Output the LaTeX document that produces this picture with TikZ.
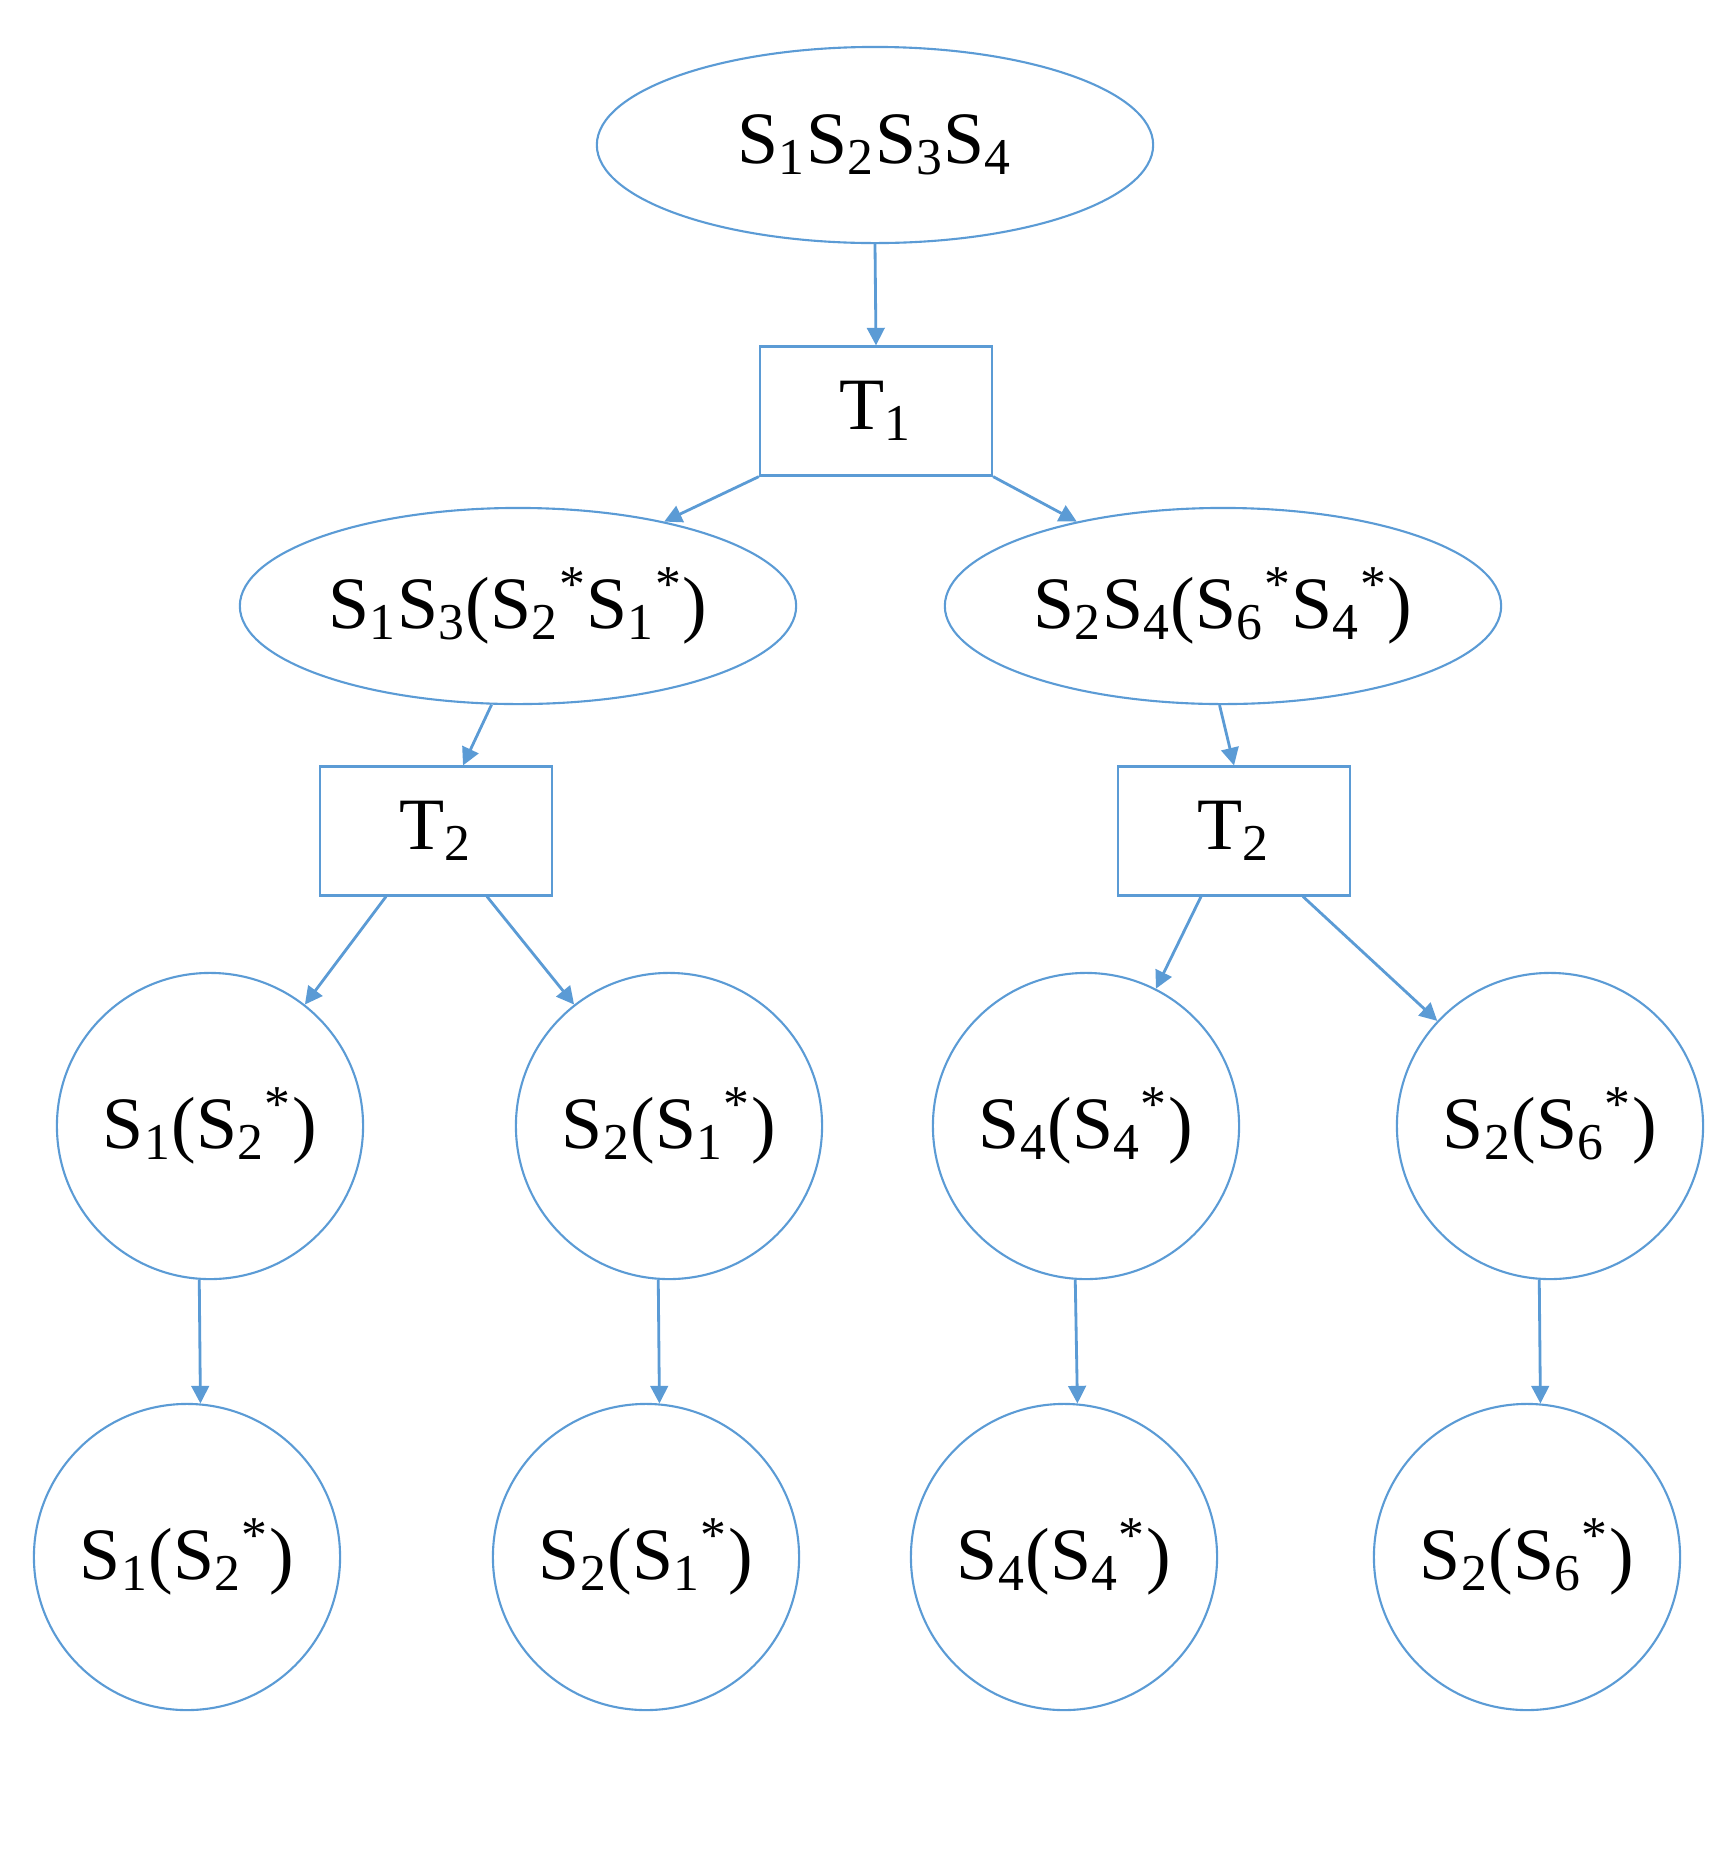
\documentclass[tikz,border=0pt]{standalone}
\usepackage{fontspec}
\setmainfont{Liberation Serif}
\usetikzlibrary{shapes.geometric,arrows.meta}
\definecolor{lb}{RGB}{91,155,213}
\newcommand{\ssb}[1]{\textsubscript{#1}}
\newcommand{\sst}{\textsuperscript{*}}
\begin{document}
\begin{tikzpicture}[x=0.01cm,y=0.01cm,
  every node/.style={font=\fontsize{21}{24}\selectfont, inner sep=0pt},
  ell/.style={draw=lb, line width=0.6pt, ellipse, minimum width=5.56cm, minimum height=1.96cm},
  box/.style={draw=lb, line width=0.6pt, rectangle, minimum width=2.32cm, minimum height=1.29cm},
  cir/.style={draw=lb, line width=0.6pt, circle, minimum size=3.06cm},
  arr/.style={draw=lb, line width=0.8pt, -{Triangle[length=5pt,width=5pt]}}]
\useasboundingbox (0,-1869) rectangle (1735,0);
\node[ell] (top) at (875,-145) {S\ssb1S\ssb2S\ssb3S\ssb4};
\node[box] (t1) at (876,-411) {T\ssb1};
\node[ell] (L) at (518,-606) {S\ssb1S\ssb3(S\ssb2\sst S\ssb1\sst)};
\node[ell] (R) at (1223,-606) {S\ssb2S\ssb4(S\ssb6\sst S\ssb4\sst)};
\node[box] (t2l) at (436,-831) {T\ssb2};
\node[box] (t2r) at (1234,-831) {T\ssb2};
\node[cir] (a1) at (210,-1126) {S\ssb1(S\ssb2\sst)};
\node[cir] (b1) at (669,-1126) {S\ssb2(S\ssb1\sst)};
\node[cir] (c1) at (1086,-1126) {S\ssb4(S\ssb4\sst)};
\node[cir] (d1) at (1550,-1126) {S\ssb2(S\ssb6\sst)};
\node[cir] (a2) at (187,-1557) {S\ssb1(S\ssb2\sst)};
\node[cir] (b2) at (646,-1557) {S\ssb2(S\ssb1\sst)};
\node[cir] (c2) at (1064,-1557) {S\ssb4(S\ssb4\sst)};
\node[cir] (d2) at (1527,-1557) {S\ssb2(S\ssb6\sst)};
\draw[arr] (top.south) -- (t1.north);
\draw[arr] (t1.south west) -- (L.30);
\draw[arr] (t1.south east) -- (R.150);
\draw[arr] (L.255) -- ([xshift=0.27cm]t2l.north);
\draw[arr] (R.268) -- (t2r.north);
\draw[arr] ([xshift=-0.5cm]t2l.south) -- (a1.52);
\draw[arr] ([xshift=0.51cm]t2l.south) -- (b1.128);
\draw[arr] ([xshift=-0.33cm]t2r.south) -- (c1.63);
\draw[arr] ([xshift=0.69cm]t2r.south) -- (d1.137);
\draw[arr] (a1.266) -- (a2.85);
\draw[arr] (b1.266) -- (b2.85);
\draw[arr] (c1.266) -- (c2.85);
\draw[arr] (d1.266) -- (d2.85);
\end{tikzpicture}
\end{document}
